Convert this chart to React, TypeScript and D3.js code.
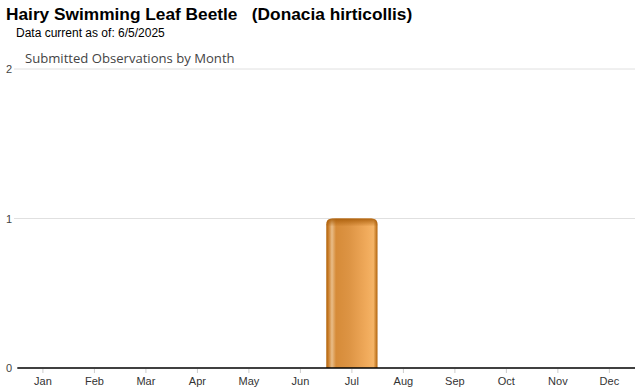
import React from "react";
import * as d3 from "d3";

const months = ["Jan","Feb","Mar","Apr","May","Jun","Jul","Aug","Sep","Oct","Nov","Dec"];
const counts = [0,0,0,0,0,0,1,0,0,0,0,0];
const yTicks = [0,1,2];
const title = "Hairy Swimming Leaf Beetle\u00a0\u00a0\u00a0(Donacia hirticollis)";
const subtitle = "Data current as of: 6/5/2025";
const chartTitle = "Submitted Observations by Month";

export default function App() {
  const W = 640, H = 390;
  const left = 17.3, right = 635, top = 69, bottom = 368;
  const x = d3.scaleBand<string>().domain(months).range([left, right]).paddingInner(0.005).paddingOuter(0);
  const y = d3.scaleLinear().domain([0, 2]).range([bottom, top]);
  const barPath = (m: string, v: number, h?: number) => {
    const x0 = x(m)!, w = x.bandwidth(), y0 = y(v), r = 6;
    const yb = h === undefined ? bottom : y0 + h;
    return `M${x0},${yb} L${x0},${y0 + r} Q${x0},${y0} ${x0 + r},${y0} L${x0 + w - r},${y0} Q${x0 + w},${y0} ${x0 + w},${y0 + r} L${x0 + w},${yb} Z`;
  };
  return (
    <svg width={W} height={H} style={{ position: "absolute", left: 0, top: 0, background: "#fff" }}
      fontFamily="Liberation Sans, Arial, sans-serif">
      <defs>
        <linearGradient id="barg" x1="0" x2="1" y1="0" y2="0">
          <stop offset="0%" stopColor="#b0620a" />
          <stop offset="4%" stopColor="#c97c28" />
          <stop offset="11%" stopColor="#e9bd88" />
          <stop offset="19%" stopColor="#d68b38" />
          <stop offset="45%" stopColor="#dd9444" />
          <stop offset="80%" stopColor="#f1ab5c" />
          <stop offset="92%" stopColor="#f5b466" />
          <stop offset="100%" stopColor="#b0620a" />
        </linearGradient>
        <linearGradient id="topg" x1="0" x2="0" y1="0" y2="1">
          <stop offset="0%" stopColor="#a85c08" stopOpacity="0.9" />
          <stop offset="100%" stopColor="#a85c08" stopOpacity="0" />
        </linearGradient>
      </defs>
      <text x={6} y={20} fontSize={17.3} fontWeight="bold" fill="#000">{title}</text>
      <text x={16} y={37} fontSize={12} fill="#000">{subtitle}</text>
      <text x={25} y={63} fontSize={13.1} fill="#444" fontFamily="Open Sans, sans-serif">{chartTitle}</text>
      {yTicks.map(t => (
        <g key={t}>
          {t > 0 && <line x1={14} x2={right} y1={y(t)} y2={y(t)} stroke="#e0e0e0" strokeWidth={1} />}
          <text x={6} y={y(t) + 4} fontSize={11} fill="#444">{t}</text>
        </g>
      ))}
      {months.map((m, i) => counts[i] > 0 && (
        <g key={m}>
          <path d={barPath(m, counts[i])} fill="url(#barg)" />
          <path d={barPath(m, counts[i], 8)} fill="url(#topg)" />
        </g>
      ))}
      <line x1={left} x2={right} y1={bottom} y2={bottom} stroke="#000" strokeWidth={1.5} />
      {months.map(m => (
        <g key={m}>
          <line x1={x(m)! + x.bandwidth() / 2} x2={x(m)! + x.bandwidth() / 2} y1={bottom + 1} y2={bottom + 5} stroke="#ccc" />
          <text x={x(m)! + x.bandwidth() / 2} y={385} fontSize={11} textAnchor="middle" fill="#333">{m}</text>
        </g>
      ))}
    </svg>
  );
}
